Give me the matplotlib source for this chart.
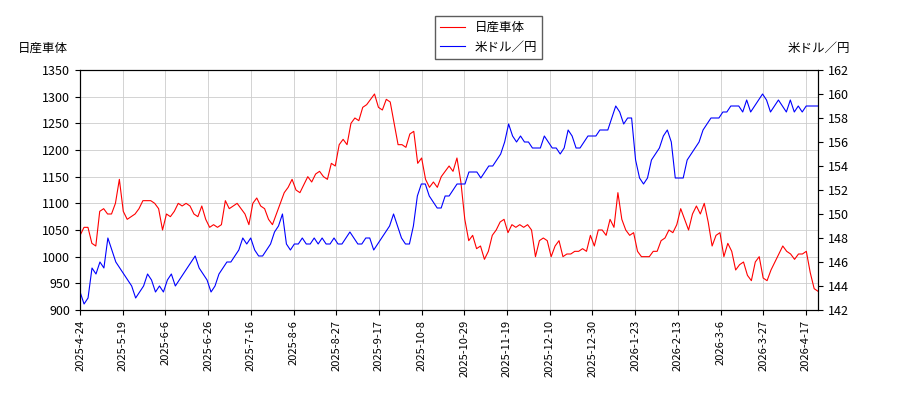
import numpy as np
import matplotlib
matplotlib.use("Agg")
import matplotlib.pyplot as plt

plt.rcParams['font.family'] = ['Noto Sans CJK JP', 'DejaVu Sans']

tick_labels = ["2025-4-24","2025-5-19","2025-6-6","2025-6-26","2025-7-16","2025-8-6","2025-8-27",
               "2025-9-17","2025-10-8","2025-10-29","2025-11-19","2025-12-10","2025-12-30","2026-1-23",
               "2026-2-13","2026-3-6","2026-3-27","2026-4-17"]

nissan = [1040,1055,1055,1025,1020,1085,1090,1080,1080,1100,1145,1085,1070,1075,1080,1090,1105,1105,1105,1100,
          1090,1050,1080,1075,1085,1100,1095,1100,1095,1080,1075,1095,1070,1055,1060,1055,1060,1105,1090,1095,
          1100,1090,1080,1060,1100,1110,1095,1090,1070,1060,1080,1100,1120,1130,1145,1125,1120,1135,1150,1140,
          1155,1160,1150,1145,1175,1170,1210,1220,1210,1250,1260,1255,1280,1285,1295,1305,1280,1275,1295,1290,
          1250,1210,1210,1205,1230,1235,1175,1185,1145,1130,1140,1130,1150,1160,1170,1160,1185,1140,1070,1030,
          1040,1015,1020,995,1010,1040,1050,1065,1070,1045,1060,1055,1060,1055,1060,1050,1000,1030,1035,1030,
          1000,1020,1030,1000,1005,1005,1010,1010,1015,1010,1040,1020,1050,1050,1040,1070,1055,1120,1070,1050,
          1040,1045,1010,1000,1000,1000,1010,1010,1030,1035,1050,1045,1060,1090,1070,1050,1080,1095,1080,1100,
          1065,1020,1040,1045,1000,1025,1010,975,985,990,965,955,990,1000,960,955,975,990,1005,1020,
          1010,1005,995,1005,1005,1010,970,940,935]

usdjpy = [143.5,142.5,143,145.5,145,146,145.5,148,147,146,145.5,145,144.5,144,143,143.5,144,145,144.5,143.5,
          144,143.5,144.5,145,144,144.5,145,145.5,146,146.5,145.5,145,144.5,143.5,144,145,145.5,146,146,146.5,
          147,148,147.5,148,147,146.5,146.5,147,147.5,148.5,149,150,147.5,147,147.5,147.5,148,147.5,147.5,148,
          147.5,148,147.5,147.5,148,147.5,147.5,148,148.5,148,147.5,147.5,148,148,147,147.5,148,148.5,149,150,
          149,148,147.5,147.5,149,151.5,152.5,152.5,151.5,151,150.5,150.5,151.5,151.5,152,152.5,152.5,152.5,153.5,153.5,
          153.5,153,153.5,154,154,154.5,155,156,157.5,156.5,156,156.5,156,156,155.5,155.5,155.5,156.5,156,155.5,
          155.5,155,155.5,157,156.5,155.5,155.5,156,156.5,156.5,156.5,157,157,157,158,159,158.5,157.5,158,158,
          154.5,153,152.5,153,154.5,155,155.5,156.5,157,156,153,153,153,154.5,155,155.5,156,157,157.5,158,
          158,158,158.5,158.5,159,159,159,158.5,159.5,158.5,159,159.5,160,159.5,158.5,159,159.5,159,158.5,159.5,
          158.5,159,158.5,159,159,159,159]

N = 243
xn = np.linspace(0, N - 1, len(nissan))
xu = np.linspace(0, N - 1, len(usdjpy))
tick_pos = np.arange(len(tick_labels)) * 14

fig = plt.figure(figsize=(9, 4), dpi=100)
ax = fig.add_axes([0.089, 0.225, 0.82, 0.6])
ax2 = ax.twinx()
l1, = ax.plot(xn, nissan, color='red', lw=0.8, label='日産車体')
l2, = ax2.plot(xu, usdjpy, color='blue', lw=0.8, label='米ドル／円')
ax.set_xlim(0, N - 1)
ax.set_ylim(900, 1350)
ax.set_yticks(np.arange(900, 1351, 50))
ax2.set_ylim(142, 162)
ax2.set_yticks(np.arange(142, 163, 2))
ax.set_xticks(tick_pos)
ax.set_xticklabels(tick_labels, rotation=90, fontsize=8)
ax.tick_params(axis='y', labelsize=9)
ax2.tick_params(axis='y', labelsize=9)
ax.grid(True, color='#cccccc', lw=0.6)
ax.set_axisbelow(True)
fig.text(0.02, 0.87, '日産車体', fontsize=9)
fig.text(0.945, 0.87, '米ドル／円', fontsize=9, ha='right')
fig.legend(handles=[l1, l2], loc='upper center', bbox_to_anchor=(0.543, 0.975),
           fontsize=9, frameon=True, fancybox=False, edgecolor='#333333')
fig.savefig('out.png')
